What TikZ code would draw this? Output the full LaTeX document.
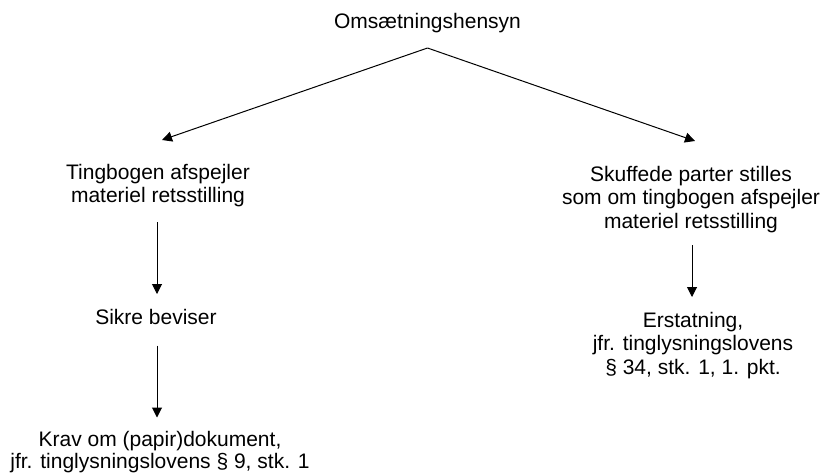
\documentclass[tikz,border=0pt]{standalone}
\usepackage{fontspec}
\setmainfont{Liberation Sans}
\usetikzlibrary{arrows.meta}
\begin{document}
\begin{tikzpicture}[x=1pt,y=-1pt,
  txt/.style={align=center,inner sep=0pt,anchor=north,font=\fontsize{21}{23.5}\selectfont},
  arr/.style={line width=1pt,-{Triangle[length=10pt,width=10pt]}}]
\useasboundingbox (0,0) rectangle (826,475);
\node[txt] (top) at (427.5,12.7) {Omsætningshensyn};
\node[txt] (l1) at (158,163.7) {Tingbogen afspejler\\materiel retsstilling};
\node[txt] (r1) at (691,165.7) {Skuffede parter stilles\\som om tingbogen afspejler\\materiel retsstilling};
\node[txt] (l2) at (156,308.7) {Sikre beviser};
\node[txt,font=\fontsize{21}{22}\selectfont] (l3) at (160,431.5) {Krav om (papir)dokument,\\jfr. tinglysningslovens § 9, stk. 1};
\node[txt] (r2) at (693,311.7) {Erstatning,\\jfr. tinglysningslovens\\§ 34, stk. 1, 1. pkt.};
\draw[arr] ([yshift=-35.3pt]top.north) -- ([xshift=4pt,yshift=23.7pt]l1.north);
\draw[arr] ([yshift=-35.3pt]top.north) -- ([xshift=4pt,yshift=24.7pt]r1.north);
\draw[arr] ([xshift=-1pt,yshift=-15pt]l1.south) -- ([xshift=-1pt,yshift=14.7pt]l1.south |- l2.north);
\draw[arr] ([xshift=1pt,yshift=-21pt]l2.south) -- ([xshift=1pt,yshift=14pt]l2.south |- l3.north);
\draw[arr] ([xshift=1pt,yshift=-12.6pt]r1.south) -- ([xshift=1pt,yshift=14.7pt]r1.south |- r2.north);
\end{tikzpicture}
\end{document}
